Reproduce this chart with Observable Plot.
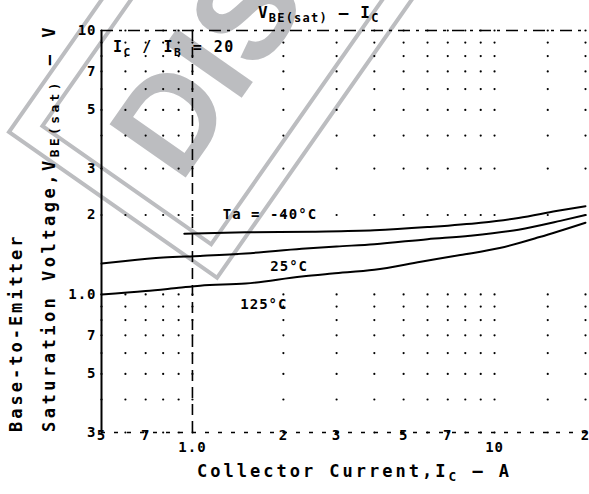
<!DOCTYPE html>
<html><head><meta charset="utf-8">
<script src="https://cdn.jsdelivr.net/npm/d3@7"></script>
<script src="https://cdn.jsdelivr.net/npm/@observablehq/plot@0.6"></script>
<style>body{margin:0;background:#fff}</style>
</head><body><div id="chart"></div>
<script>
// Collector current (A) and VBE(sat) (V) for each ambient temperature
const icM40 = [0.94, 1.5, 2.5, 4, 6, 9, 12, 16, 20];
const vbeM40 = [1.70, 1.72, 1.73, 1.75, 1.80, 1.87, 1.95, 2.07, 2.16];
const ic25 = [0.5, 0.6, 0.8, 1.06, 1.5, 2.3, 3, 4, 6, 8.3, 12, 16.5, 20];
const vbe25 = [1.31, 1.34, 1.38, 1.40, 1.43, 1.49, 1.52, 1.55, 1.62, 1.67, 1.76, 1.90, 2.00];
const ic125 = [0.5, 0.7, 0.9, 1.06, 1.5, 2.3, 2.9, 4, 5.7, 7.7, 10.4, 14.1, 20];
const vbe125 = [1.00, 1.03, 1.06, 1.08, 1.10, 1.17, 1.20, 1.24, 1.33, 1.41, 1.50, 1.65, 1.87];

const seriesNames = ["Ta = -40°C", "25°C", "125°C"];
const labelIc = [1.26, 1.81, 1.44];
const labelV = [2.0, 1.28, 0.92];

const xTicks1 = [0.5, 0.7, 2, 3, 5, 7, 20];
const xLabels1 = ["5", "7", "2", "3", "5", "7", "2"];
const xTicks2 = [1, 10];
const xLabels2 = ["1.0", "10"];
const yTicks = [0.3, 0.5, 0.7, 1, 2, 3, 5, 7, 10];
const yLabels = ["3", "5", "7", "1.0", "2", "3", "5", "7", "10"];
const xGrid = [0.5, 0.6, 0.7, 0.8, 0.9, 1, 2, 3, 4, 5, 6, 7, 8, 9, 10, 15, 20];
const yGrid = [0.3, 0.4, 0.5, 0.6, 0.7, 0.8, 0.9, 1, 2, 3, 4, 5, 6, 7, 8, 9, 10];

const rows = [
  ...icM40.map((x, i) => ({s: seriesNames[0], x, y: vbeM40[i]})),
  ...ic25.map((x, i) => ({s: seriesNames[1], x, y: vbe25[i]})),
  ...ic125.map((x, i) => ({s: seriesNames[2], x, y: vbe125[i]}))
];
const gridPts = xGrid.flatMap(x => yGrid.map(y => ({x, y})));

const FONT = "'DejaVu Sans Mono', monospace";

const chart = Plot.plot({
  width: 589, height: 494,
  marginLeft: 101, marginRight: 4, marginTop: 30, marginBottom: 62,
  x: {type: "log", domain: [0.5, 20], axis: null},
  y: {type: "log", domain: [0.3, 10], axis: null},
  style: {background: "white", fontFamily: FONT, color: "black"},
  marks: [
    Plot.dot(gridPts, {x: "x", y: "y", r: 1.1, fill: "black", stroke: "none"}),
    Plot.ruleY([10], {stroke: "black", strokeWidth: 1.6, strokeDasharray: "12,6,3,6"}),
    Plot.ruleY([0.3], {stroke: "black", strokeWidth: 1.6, strokeDasharray: "4,9"}),
    Plot.ruleX([1], {stroke: "black", strokeWidth: 1.6, strokeDasharray: "11,6"}),
    Plot.ruleX([0.5], {stroke: "black", strokeWidth: 2}),
    Plot.line(rows, {x: "x", y: "y", z: "s", stroke: "black", strokeWidth: 2, curve: "monotone-x"}),
    Plot.text(xTicks1, {x: d => d, frameAnchor: "bottom", dy: 7, text: (d, i) => xLabels1[i], fontSize: 14, fontWeight: "bold"}),
    Plot.text(xTicks2, {x: d => d, frameAnchor: "bottom", dy: 19, text: (d, i) => xLabels2[i], fontSize: 14, fontWeight: "bold"}),
    Plot.text(yTicks, {y: d => d, frameAnchor: "left", dx: -5, textAnchor: "end", text: (d, i) => yLabels[i], fontSize: 14, fontWeight: "bold"}),
    Plot.text(seriesNames, {x: (d, i) => labelIc[i], y: (d, i) => labelV[i], text: d => d, textAnchor: "start", fontSize: 14, fontWeight: "bold"})
  ]
});
document.getElementById("chart").appendChild(chart);

const svg = d3.select(chart);
svg.selectAll("text").style("letter-spacing", "1px");

// watermark (behind the chart)
const wm = svg.insert("g", ":first-child").attr("transform", "translate(9,132) rotate(-55)");
wm.append("rect").attr("x", 0).attr("y", 0).attr("width", 700).attr("height", 254)
  .attr("fill", "none").attr("stroke", "#bcbdc0").attr("stroke-width", 4);
wm.append("rect").attr("x", 24).attr("y", 24).attr("width", 700).attr("height", 206)
  .attr("fill", "none").attr("stroke", "#bcbdc0").attr("stroke-width", 4);
wm.append("text").attr("x", 55).attr("y", 171).attr("text-anchor", "start").text("DISCONTINUED")
  .attr("font-family", "'Liberation Sans', Arial, sans-serif").attr("font-weight", "bold")
  .attr("font-size", 135).attr("fill", "#bcbdc0");
svg.insert("rect", ":first-child").attr("width", 589).attr("height", 494).attr("fill", "white");

function addText(x, y, parts, opts = {}) {
  const t = svg.append("text").attr("x", x).attr("y", y).attr("text-anchor", "start")
    .attr("font-family", FONT).attr("font-weight", "bold")
    .attr("font-size", opts.size || 17).style("letter-spacing", (opts.ls ?? 3) + "px")
    .attr("fill", "black");
  if (opts.rotate) t.attr("transform", `rotate(-90 ${x} ${y})`);
  for (const p of parts) {
    const s = t.append("tspan").text(p.t);
    if (p.sub) s.attr("font-size", (opts.size || 17) * 0.75).attr("dy", 4);
    if (p.up) s.attr("dy", -4);
  }
  return t;
}
// axis titles
addText(22, 432, [{t: "Base-to-Emitter"}], {rotate: true});
addText(55, 432, [{t: "Saturation Voltage,V"}, {t: "BE(sat)", sub: true}, {t: " – V", up: true}], {rotate: true, ls: 3.5});
addText(197, 477, [{t: "Collector Current,I"}, {t: "C", sub: true}, {t: " – A", up: true}]);
// title and condition
addText(258, 18, [{t: "V"}, {t: "BE(sat)", sub: true}, {t: " – I", up: true}, {t: "C", sub: true}], {size: 16, ls: 1.2});
addText(113, 52, [{t: "I"}, {t: "C", sub: true}, {t: " / I", up: true}, {t: "B", sub: true}, {t: " = 20", up: true}], {size: 15, ls: 1.5});
</script></body></html>
